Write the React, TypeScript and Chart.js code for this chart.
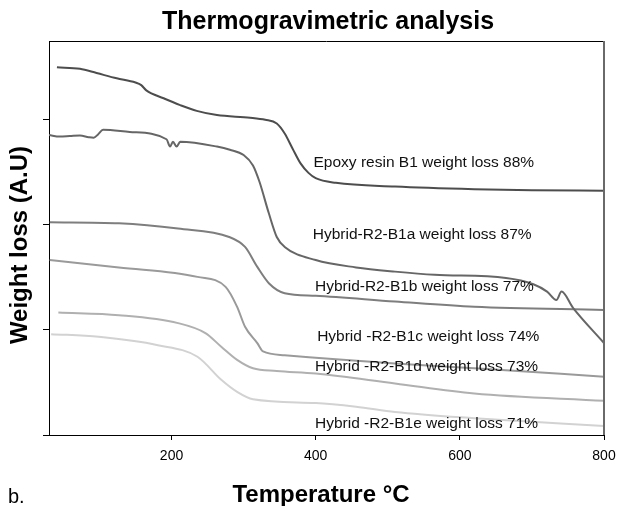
import React, { useEffect, useRef } from "react";
import { Chart, registerables } from "chart.js";

Chart.register(...registerables);

// Temperature (°C) / weight (A.U) samples
const epoxyT = [41, 73, 96, 124, 150, 158, 165, 189, 212, 235, 263, 309, 330, 346, 357, 368, 379, 390, 400, 428, 510, 620, 700, 800];
const epoxyV = [70.0, 69.7, 68.9, 67.9, 67.1, 66.6, 65.6, 64.1, 62.8, 61.7, 60.9, 60.4, 60.0, 59.3, 57.4, 54.5, 51.7, 49.9, 48.9, 48.0, 47.3, 46.8, 46.6, 46.5];

const b1aT = [30, 45, 59, 73, 85, 92, 98, 105, 142, 193, 198, 202, 207, 212, 263, 281, 300, 313, 322, 335, 346, 357, 400, 456, 510, 565, 664, 702, 721, 734, 741, 757, 800];
const b1aV = [57.1, 56.8, 56.9, 57.0, 56.7, 56.6, 57.2, 58.1, 57.7, 56.3, 54.9, 55.8, 54.9, 55.8, 54.9, 54.3, 53.3, 51.3, 48.2, 42.2, 37.7, 35.8, 33.3, 31.9, 31.1, 30.5, 29.9, 28.7, 27.3, 25.7, 27.3, 24.2, 17.5];

const b1bT = [31, 127, 209, 280, 302, 319, 335, 357, 400, 510, 620, 800];
const b1bV = [40.5, 40.3, 39.3, 37.7, 35.8, 32.0, 28.9, 27.0, 26.5, 25.4, 24.4, 23.8];

const b1cT = [31, 127, 236, 275, 291, 302, 319, 327, 357, 428, 510, 620, 800];
const b1cV = [33.3, 31.9, 30.1, 28.2, 24.4, 20.6, 17.5, 15.9, 15.2, 14.4, 13.6, 12.7, 11.1];

const b1dT = [43, 127, 209, 247, 269, 291, 313, 346, 400, 510, 620, 800];
const b1dV = [23.3, 22.8, 21.3, 19.4, 16.8, 14.3, 12.7, 12.2, 11.7, 9.8, 7.9, 6.5];

const b1eT = [33, 99, 181, 236, 269, 291, 313, 400, 456, 510, 620, 800];
const b1eV = [19.2, 18.7, 17.1, 14.9, 10.5, 8.2, 6.8, 6.1, 5.4, 4.4, 3.2, 1.7];

const seriesNames = ["Epoxy resin B1", "Hybrid-R2-B1a", "Hybrid-R2-B1b", "Hybrid -R2-B1c", "Hybrid -R2-B1d", "Hybrid -R2-B1e"];
const seriesT = [epoxyT, b1aT, b1bT, b1cT, b1dT, b1eT];
const seriesV = [epoxyV, b1aV, b1bV, b1cV, b1dV, b1eV];
const seriesColors = ["#4d4d4d", "#666666", "#7e7e7e", "#9a9a9a", "#b0b0b0", "#d2d2d2"];

const labelTexts = [
  "Epoxy resin B1 weight loss 88%",
  "Hybrid-R2-B1a weight loss 87%",
  "Hybrid-R2-B1b weight loss 77%",
  "Hybrid -R2-B1c weight loss 74%",
  "Hybrid -R2-B1d weight loss 73%",
  "Hybrid -R2-B1e weight loss 71%",
];
const labelT = [397, 396, 399, 402, 399, 399];
const labelV = [51.8, 38.1, 28.2, 18.7, 13.0, 2.1];

const xTicks = [200, 400, 600, 800];
const yTicks = [0, 20, 40, 60];

const chartTitle = "Thermogravimetric analysis";
const xTitle = "Temperature °C";
const yTitle = "Weight loss (A.U)";
const panelTag = "b.";

const FONT = "'Liberation Sans', Arial, sans-serif";

const annotPlugin = {
  id: "annot",
  afterDatasetsDraw(chart: any) {
    const { ctx, chartArea, scales } = chart;
    ctx.save();
    // frame top & right
    ctx.strokeStyle = "#000";
    ctx.lineWidth = 1;
    ctx.beginPath();
    ctx.moveTo(chartArea.left, chartArea.top + 0.5);
    ctx.lineTo(chartArea.right, chartArea.top + 0.5);
    ctx.stroke();
    ctx.strokeStyle = "#6a6a6a";
    ctx.lineWidth = 2;
    ctx.beginPath();
    ctx.moveTo(chartArea.right, chartArea.top);
    ctx.lineTo(chartArea.right, chartArea.bottom);
    ctx.stroke();
    // curve labels
    ctx.fillStyle = "#111";
    ctx.font = "15.5px " + FONT;
    ctx.textAlign = "left";
    ctx.textBaseline = "middle";
    labelTexts.forEach((t, i) => {
      ctx.fillText(t, scales.x.getPixelForValue(labelT[i]), scales.y.getPixelForValue(labelV[i]));
    });
    // titles
    ctx.fillStyle = "#000";
    ctx.font = "bold 25px " + FONT;
    ctx.textAlign = "center";
    ctx.fillText(chartTitle, 328, 22);
    ctx.font = "bold 24px " + FONT;
    ctx.fillText(xTitle, 321, 495);
    ctx.save();
    ctx.translate(20, 245);
    ctx.rotate(-Math.PI / 2);
    ctx.fillText(yTitle, 0, 0);
    ctx.restore();
    ctx.font = "20px " + FONT;
    ctx.textAlign = "left";
    ctx.textBaseline = "alphabetic";
    ctx.fillText(panelTag, 8, 503);
    ctx.restore();
  },
};

export default function App() {
  const ref = useRef<HTMLCanvasElement>(null);
  useEffect(() => {
    document.body.style.margin = "0";
    const chart = new Chart(ref.current!, {
      type: "line",
      data: {
        datasets: seriesNames.map((name, i) => ({
          label: name,
          data: seriesT[i].map((t, j) => ({ x: t, y: seriesV[i][j] })),
          borderColor: seriesColors[i],
          borderWidth: 2,
          pointRadius: 0,
          fill: false,
          cubicInterpolationMode: "monotone" as const,
        })),
      },
      options: {
        animation: false,
        responsive: false,
        layout: { padding: { left: 0, right: 0, top: 41, bottom: 0 } },
        plugins: {
          legend: { display: false },
          tooltip: { enabled: false },
          title: { display: false },
        },
        scales: {
          x: {
            type: "linear",
            min: 30,
            max: 800,
            afterBuildTicks: (s: any) => {
              s.ticks = xTicks.map((v) => ({ value: v }));
            },
            afterFit: (s: any) => {
              s.height = 71;
              s.paddingLeft = 0;
              s.paddingRight = 15;
            },
            ticks: {
              color: "#000",
              font: { family: FONT, size: 14 },
              padding: 8,
              maxRotation: 0,
              autoSkip: false,
            },
            grid: { drawOnChartArea: false, drawTicks: true, tickLength: 5, color: "#000" },
            border: { display: true, color: "#000", width: 1 },
          },
          y: {
            type: "linear",
            min: 0,
            max: 75,
            afterBuildTicks: (s: any) => {
              s.ticks = yTicks.map((v) => ({ value: v }));
            },
            afterFit: (s: any) => {
              s.width = 49;
              s.paddingTop = 0;
              s.paddingBottom = 0;
            },
            ticks: { display: true, callback: () => "", padding: 0 },
            grid: { drawOnChartArea: false, drawTicks: true, tickLength: 6, color: "#000" },
            border: { display: true, color: "#000", width: 1 },
          },
        },
      },
      plugins: [annotPlugin],
    });
    return () => chart.destroy();
  }, []);
  return <canvas ref={ref} width={619} height={506} style={{ display: "block" }} />;
}
